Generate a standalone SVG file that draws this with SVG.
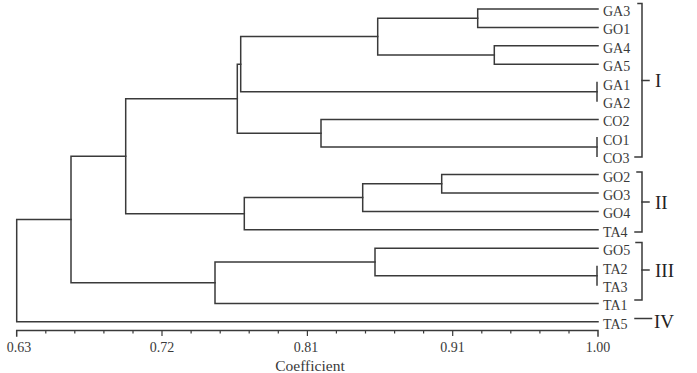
<svg xmlns="http://www.w3.org/2000/svg" width="697" height="373" viewBox="0 0 697 373">
<style>
.br{fill:none;stroke:#3a3a3a;stroke-width:1.5;stroke-linejoin:miter;stroke-linecap:square}
.lbl{font-family:"Liberation Serif","Times New Roman",serif;font-size:14px;fill:#3a3a3a}
.ax{font-family:"Liberation Serif","Times New Roman",serif;font-size:14px;fill:#3a3a3a;text-anchor:middle}
.rom{font-family:"Liberation Serif","Times New Roman",serif;font-size:19px;fill:#222}
.tk{stroke:#3a3a3a;stroke-width:1.2}
</style>
<rect width="697" height="373" fill="#fff"/>
<g id="connectors">
<path class="br" d="M598 9 H477.7 V27.4 H598"/>
<path class="br" d="M598 45.8 H494.3 V64.2 H598"/>
<path class="br" d="M477.7 18.2 H377.7 V55 H494.3"/>
<path class="br" d="M597 82.6 V101"/>
<path class="br" d="M377.7 36.6 H240.7 V91.8 H597"/>
<path class="br" d="M597 137.8 V156.2"/>
<path class="br" d="M598 119.4 H321 V147 H597"/>
<path class="br" d="M240.7 64.2 H237.3 V133.2 H321"/>
<path class="br" d="M598 174.6 H441.7 V193 H598"/>
<path class="br" d="M441.7 183.8 H362.7 V211.4 H598"/>
<path class="br" d="M362.7 197.6 H244.3 V229.8 H598"/>
<path class="br" d="M237.3 98.7 H125.7 V213.7 H244.3"/>
<path class="br" d="M597 266.6 V285"/>
<path class="br" d="M598 248.2 H375 V275.8 H597"/>
<path class="br" d="M375 262 H215 V303.4 H598"/>
<path class="br" d="M125.7 156.2 H71 V282.7 H215"/>
<path class="br" d="M71 219.45 H16.7 V321.8 H598"/>
</g>
<g id="leaves">
<text class="lbl" x="603" y="16">GA3</text>
<text class="lbl" x="603" y="34.4">GO1</text>
<text class="lbl" x="603" y="52.8">GA4</text>
<text class="lbl" x="603" y="71.2">GA5</text>
<text class="lbl" x="603" y="89.6">GA1</text>
<text class="lbl" x="603" y="108">GA2</text>
<text class="lbl" x="603" y="126.4">CO2</text>
<text class="lbl" x="603" y="144.8">CO1</text>
<text class="lbl" x="603" y="163.2">CO3</text>
<text class="lbl" x="603" y="181.6">GO2</text>
<text class="lbl" x="603" y="200">GO3</text>
<text class="lbl" x="603" y="218.4">GO4</text>
<text class="lbl" x="603" y="236.8">TA4</text>
<text class="lbl" x="603" y="255.2">GO5</text>
<text class="lbl" x="603" y="273.6">TA2</text>
<text class="lbl" x="603" y="292">TA3</text>
<text class="lbl" x="603" y="310.4">TA1</text>
<text class="lbl" x="603" y="328.8">TA5</text>
</g>
<g id="cluster-I">
<path class="br" d="M638 3.5 H642 V157 H635"/>
<path class="br" d="M642 80.5 H649"/>
<text class="rom" x="655" y="87">I</text>
</g>
<g id="cluster-II">
<path class="br" d="M637 172 H642 V232 H635"/>
<path class="br" d="M642 202 H649"/>
<text class="rom" x="655" y="208.5">II</text>
</g>
<g id="cluster-III">
<path class="br" d="M636 242.5 H642 V300 H635"/>
<path class="br" d="M642 270 H649"/>
<text class="rom" x="655" y="276.5">III</text>
</g>
<g id="cluster-IV">
<path class="br" d="M635 318.5 H651.5"/>
<text class="rom" x="654" y="328">IV</text>
</g>
<g id="axis">
<path class="br" d="M16.7 336 V330.5 H598 V336"/>
<path class="tk" d="M45.8 330.5v3M74.8 330.5v3M103.9 330.5v3M133 330.5v3M162 330.5v5.5M191.1 330.5v3M220.2 330.5v3M249.2 330.5v3M278.3 330.5v3M307.4 330.5v5.5M336.4 330.5v3M365.5 330.5v3M394.6 330.5v3M423.6 330.5v3M452.7 330.5v5.5M481.8 330.5v3M510.8 330.5v3M539.9 330.5v3M569 330.5v3"/>
<text class="ax" x="19" y="352">0.63</text>
<text class="ax" x="162" y="352">0.72</text>
<text class="ax" x="306" y="352">0.81</text>
<text class="ax" x="452.5" y="352">0.91</text>
<text class="ax" x="598" y="352">1.00</text>
<text class="ax" x="310" y="371" style="font-size:15.5px">Coefficient</text>
</g>
</svg>
